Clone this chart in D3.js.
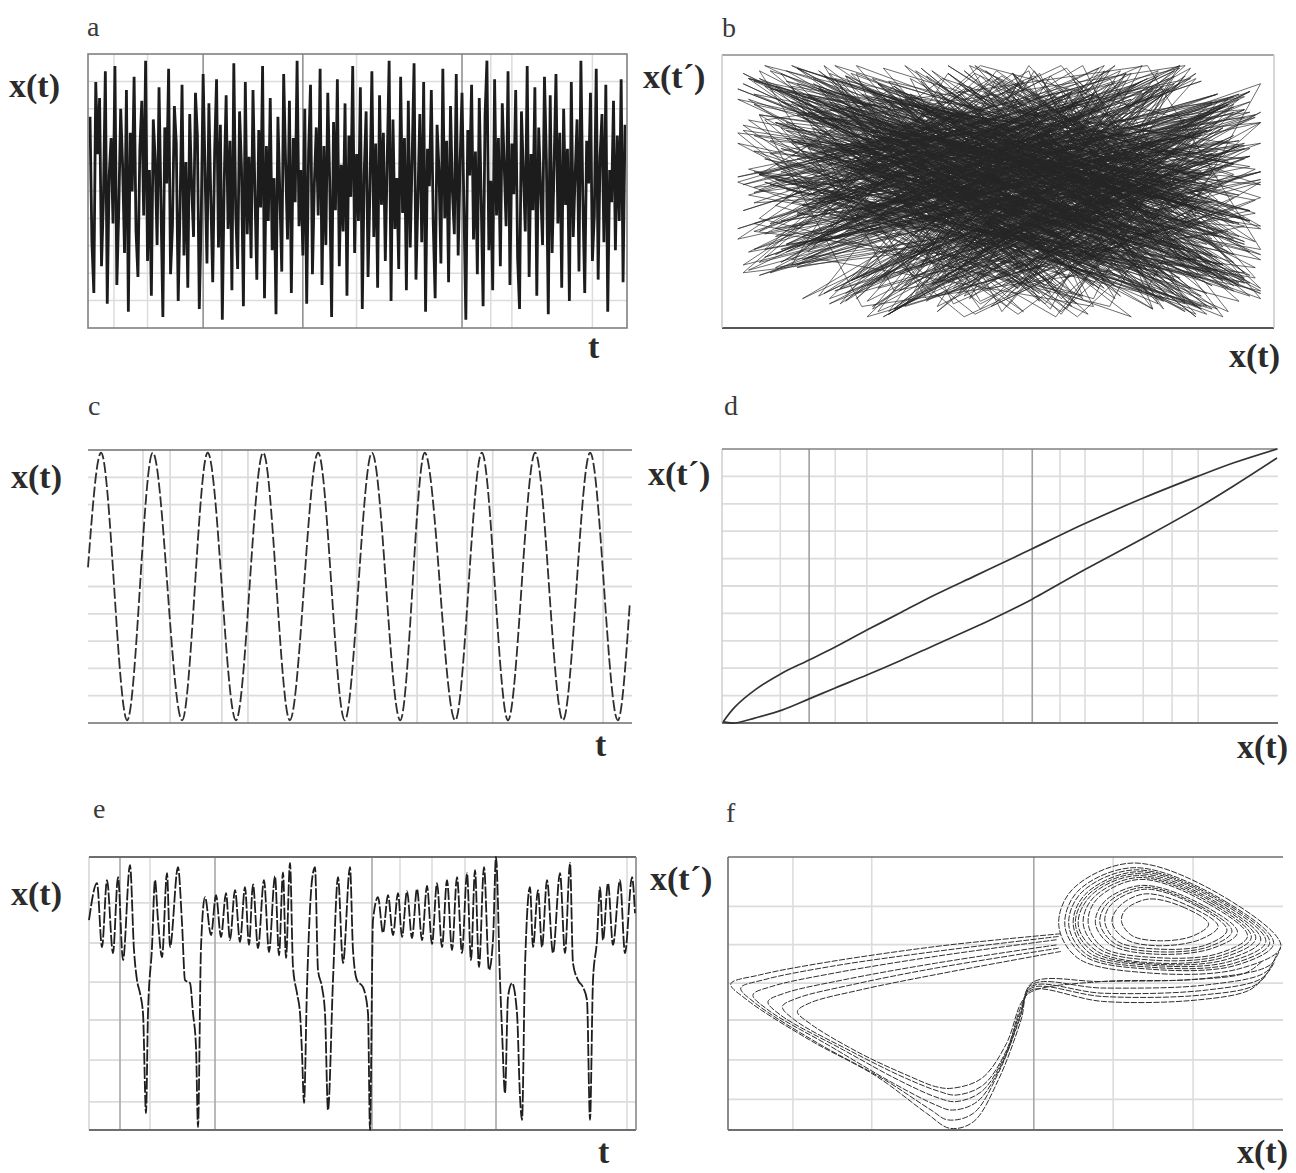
<!DOCTYPE html>
<html><head><meta charset="utf-8">
<script src="https://cdn.jsdelivr.net/npm/d3@7"></script>
<style>body{margin:0;background:#fff}svg{display:block}</style>
</head><body>
<svg id="chart" width="1296" height="1173"></svg>
<script>
// ---------- DATA (arbitrary units) ----------
// a: noise time series x(t), 0..100
const noiseA = [
78,31,12,91,64,85,22,47,95,8,56,70,38,97,15,43,81,60,27,88,
5,72,50,93,35,18,66,84,41,99,24,58,11,77,62,30,89,46,3,74,
53,96,19,37,82,68,9,45,90,26,61,14,79,52,33,87,71,6,40,94,
57,23,83,48,16,65,92,29,75,2,54,86,36,69,13,98,42,21,80,59,
7,91,34,63,25,88,50,17,73,44,97,10,67,39,85,28,55,4,78,49,
20,94,61,32,84,12,70,46,99,37,58,26,81,8,65,90,19,53,74,41,
96,15,67,30,87,54,3,76,43,92,22,60,35,83,11,71,48,97,27,64,
39,89,6,57,80,18,51,95,33,68,14,86,45,72,24,62,99,9,77,36,
55,21,93,42,70,13,84,29,63,98,17,47,79,31,91,5,66,52,88,38,
10,75,58,23,96,40,69,16,82,50,34,94,26,61,87,44,2,73,56,90,
32,65,19,85,47,7,78,99,28,54,13,92,41,70,22,83,60,37,95,15,
68,49,88,25,6,80,57,35,97,18,64,43,89,11,74,51,30,93,62,4,
86,27,59,94,38,72,14,81,45,66,9,91,33,56,77,20,99,48,12,69,
53,87,24,41,96,17,63,79,31,90,5,58,46,84,28,71,39,92,16,75];
// b: embedding delays of the phase portrait x(t) vs x(t')
const lagsB = [1, 2, 3, 4];
// c: periodic signal, extrema (t in periods, x 0..1)
const sineT = [0,0.24,0.72,1.19,1.73,2.2,2.72,3.22,3.71,4.23,4.72,5.22,5.74,6.19,6.75,7.24,7.72,8.22,8.73,9.23,9.74,9.96];
const sineX = [0.57,0.99,0.01,0.99,0.01,0.99,0.01,0.99,0.01,0.99,0.01,0.99,0.01,0.99,0.01,0.99,0.01,0.99,0.01,0.99,0.01,0.44];
// d: limit cycle (two branches), 0..1
const dUpperX = [0.002,0.023,0.059,0.108,0.157,0.204,0.261,0.324,0.384,0.456,0.528,0.559,0.654,0.759,0.858,0.921,1.0];
const dUpperY = [0.004,0.058,0.120,0.182,0.230,0.277,0.339,0.405,0.468,0.537,0.606,0.636,0.728,0.821,0.901,0.949,1.0];
const dLowerX = [0.002,0.023,0.059,0.108,0.157,0.204,0.261,0.324,0.384,0.456,0.528,0.559,0.654,0.759,0.858,0.921,1.0];
const dLowerY = [0.004,0.0,0.018,0.047,0.088,0.128,0.175,0.230,0.285,0.350,0.420,0.452,0.560,0.674,0.786,0.864,0.967];
// e: chaotic time series (t, x 0..100)
const eT = [0,8,13,18,24,29,34,41,45,48,51,54,57,59,63,66,69,73,78,81,89,93,96,101,104,107,109,112,
116,122,127,132,137,141,146,151,156,160,164,169,175,180,186,190,194,197,201,
204,208,211,213,215,218,223,226,229,233,236,239,244,249,254,261,264,268,274,279,281,284,
289,294,299,304,309,313,318,323,328,333,338,343,348,353,358,363,368,373,378,382,386,390,395,400,404,407,
411,413,416,419,423,428,431,433,436,441,444,449,453,458,464,471,476,481,484,489,494,498,501,504,508,511,514,519,524,531,536,543,546];
const eX = [76.9,90.4,67,91.5,64.8,92.6,62.2,97,65.9,54.9,50.1,42.8,6.2,42.8,67,91.5,76.9,63.3,94.1,67,96.3,75.8,54.9,53.8,42.8,30.4,1.1,67,
85.3,71.4,86,70.7,86.8,69.6,87.9,68.9,89,67.8,90,66.6,91.5,65.2,93,64,94.4,63,97.8,
59.7,50.1,42.8,28.2,9.9,52.3,91.5,96.3,58.6,52.3,42.8,7.3,54.9,92.6,61.1,96.3,65.9,54.9,52.3,42.8,0,76.9,
85.3,72.2,86,71.4,86.8,70.7,87.5,70.3,88.3,69.6,89.4,68.1,90.4,67,91.5,65.9,92.6,64.8,94.1,62.2,95.2,59.7,96.3,58.6,69.6,100,
54.9,36.6,13.5,48.7,53.8,42.8,12.1,3.7,59.7,89,67,87.9,67,91.5,64.8,94.1,64.8,97.8,61.1,54.9,52.3,47.6,3.7,54.9,69.6,89,69.6,90.4,67.8,91.5,64.8,92.6,79.4];
// f: strange attractor, x(t) vs x(t'), 0..100 -- left-wing passages
const fLeftLoops = [
 [[60,71.9],[48.7,69.7],[37.4,67.2],[18.5,61.7],[5.7,56.8],[0.5,53.5],[3.4,47.7],[14.7,33],[26.8,19.6],[35.8,6.1],[40,0.6],[44.2,3],[48.7,18.3],[52.8,40.3],[54.7,53.8],[67.5,54.4],[86.4,55.6],[97.7,60.5],[99.6,67.2]],
 [[59.6,70.9],[37.4,65.4],[18.5,59.9],[6.4,55],[2.3,52],[4.9,46.5],[16.2,31.8],[28.3,18.3],[36.6,7.3],[39.6,3.7],[44.2,6.1],[48.7,20.8],[52.5,40.3],[54.7,53.2],[67.5,52],[86.4,53.2],[97,58],[98.9,64.8]],
 [[59.2,69.7],[37.4,63.6],[19.2,57.5],[7.9,52.6],[4.5,49.5],[7.2,44],[18.5,30.6],[29.8,17.1],[37.4,9.2],[40.4,7.3],[44.9,10.4],[49.4,24.4],[52.8,42.8],[54.7,52.6],[67.5,50.1],[86.4,51.3],[96.2,55.6],[98.5,61.7]],
 [[59.2,67.8],[37.4,61.1],[20.8,55],[10.2,50.1],[7.2,47],[9.4,42.2],[20.8,29.3],[31.3,17.7],[38.1,11.6],[41.1,10.4],[45.7,14.1],[49.8,26.9],[52.8,44],[54.7,52],[67.5,48.9],[85.7,49.5],[95.1,53.2],[97.7,59.3]],
 [[59.6,66.6],[37.4,59.3],[22.3,53.2],[12.5,48.3],[9.8,45.2],[12,40.3],[22.3,28.7],[32.1,18.9],[38.1,14.1],[41.1,12.8],[46,16.5],[50.2,29.3],[52.8,45.2],[54.7,51.3],[67.5,47.1],[84.9,47.7],[94,51.3],[97,56.8]],
 [[60,65.4],[38.9,57.5],[23.8,51.3],[14.7,46.5],[12.5,43.4],[14.7,39.1],[23.8,28.1],[32.8,19.6],[37.4,15.9],[40.4,15.3],[45.7,18.9],[50.2,31.8],[52.8,46.5],[54.7,50.7],[67.5,54.4],[82.6,55],[93.2,57.5],[96.2,61.7]]
];
// f: right-wing spiral turns
const fRightLoops = [
 [[99.6,67.2],[90.5,84],[73,97.8],[62,88],[59.6,75],[63,63],[76,57.5],[92,59]],
 [[98.3,68.3],[89.8,83.5],[73.2,96.1],[63,87.4],[60.7,74.8],[64.2,63.7],[76.1,58.9],[91.3,60.2]],
 [[97.6,68.6],[89.2,83.6],[73.4,95.3],[63.6,86.8],[61.4,75.1],[64.6,64.3],[76.3,59.6],[90.7,60.8]],
 [[96.9,69],[88.6,83.6],[73.7,94.6],[64.3,86.2],[62.2,75.4],[65.1,64.9],[76.5,60.3],[90,61.5]],
 [[96,69.6],[88.2,83.2],[73.8,93.9],[64.8,86],[62.6,75.3],[65.8,65.2],[76.6,60.8],[89.7,62.4]],
 [[95.1,70.2],[87.9,82.9],[73.8,93.2],[65.3,85.7],[63.1,75.2],[66.4,65.6],[76.7,61.2],[89.4,63.3]],
 [[94.3,70.6],[87.2,82.9],[74,92.5],[65.8,85],[64,75.5],[67,66.2],[76.7,62.2],[88.8,63.9]],
 [[93.6,71],[86.5,82.9],[74.2,91.8],[66.4,84.4],[64.9,75.7],[67.5,66.9],[76.7,63.2],[88.1,64.5]],
 [[91.8,72.4],[85.7,82.2],[74.7,89.6],[67.9,83.8],[66.2,75.7],[69,67.8],[77.2,64.4],[87.2,66.5]],
 [[90.8,72.8],[85,82.1],[74.9,88.9],[68.4,83.1],[67,75.9],[69.6,68.4],[77.2,65.3],[86.6,67.1]],
 [[89.9,73.2],[84.4,82.1],[75.1,88.2],[69,82.5],[67.9,76.1],[70.2,69.1],[77.2,66.3],[86,67.7]],
 [[88.3,74.6],[83.6,81.5],[75.2,86.5],[70.5,81.9],[69.2,76],[71.7,69.8],[77.7,67.5],[85.1,69.8]],
 [[86.6,75.4],[82.3,81.4],[75.8,84.6],[71.6,80.6],[70.9,76.4],[72.8,71.2],[77.9,69.3],[83.8,71.1]]
];
// grid positions (in each panel's data units)
const aGridV = [12.5,30,59,111,139,194,209,220,262];
const aGridVDark = [59,111,194];
const cGridV = [1.01,1.51,2.46,2.94,4.94,6.05,6.97,7.44,9.47];
const dGridV = [0.105,0.157,0.204,0.261,0.506,0.559,0.609,0.654,0.759,0.811,0.858];
const dGridVDark = [0.157,0.559];
const eGridV = [31,61,126,283,311,343,376,407,538];
const eGridVDark = [31,126,283,407];
const eGridH = [83.2,68.5,54.2,40.3,25.6,10.3];
const fGridV = [11.7,25.9,55.1,69.4,83.8];
const fGridH = [81.9,67.9,53.8,40.3,25.7,11.2];
const tenthGrid = [0.1,0.2,0.3,0.4,0.5,0.6,0.7,0.8,0.9];

// ---------- DRAWING ----------
const svg = d3.select('#chart');
const SERIF = '"Liberation Serif","DejaVu Serif",serif';
const LIGHT = '#dcdcdc', FRAME = '#6e6e6e';

function hline(g, x0, x1, y, c, w){ g.append('line').attr('x1',x0).attr('x2',x1).attr('y1',y).attr('y2',y).attr('stroke',c).attr('stroke-width',w); }
function vline(g, x, y0, y1, c, w){ g.append('line').attr('x1',x).attr('x2',x).attr('y1',y0).attr('y2',y1).attr('stroke',c).attr('stroke-width',w); }
function txt(s, x, y, size, bold, fill){
  svg.append('text').attr('x',x).attr('y',y).attr('font-family',SERIF).attr('font-size',size)
    .attr('font-weight',bold?'bold':'normal').attr('fill',fill||'#2b2b2b').text(s);
}

// ---- panel a ----
{
  const g = svg.append('g');
  const B = {x0:88,x1:627,y0:54,y1:328};
  const x = d3.scaleLinear().domain([0,noiseA.length-1]).range([90,625]);
  const y = d3.scaleLinear().domain([0,100]).range([325,58]);
  const gy = d3.scaleLinear().domain([0,1]).range([B.y1,B.y0]);
  tenthGrid.forEach(v=>hline(g,B.x0,B.x1,gy(v),LIGHT,1.5));
  aGridV.forEach(v=>vline(g,x(v),B.y0,B.y1,aGridVDark.includes(v)?'#8a8a8a':LIGHT,1.5));
  g.append('path').datum(noiseA).attr('fill','none').attr('stroke','#1c1c1c').attr('stroke-width',2.8)
    .attr('d',d3.line().x((d,i)=>x(i)).y(d=>y(d)));
  g.append('rect').attr('x',B.x0).attr('y',B.y0).attr('width',B.x1-B.x0).attr('height',B.y1-B.y0)
    .attr('fill','none').attr('stroke','#808080').attr('stroke-width',1.6);
}
// ---- panel b ----
{
  const g = svg.append('g');
  const B = {x0:722,x1:1274,y0:55,y1:328};
  const x = d3.scaleLinear().domain([0,100]).range([727,1266]);
  const y = d3.scaleLinear().domain([0,100]).range([322,63]);
  lagsB.forEach(lag=>{
    const pts = noiseA.slice(0,noiseA.length-lag).map((v,i)=>[v,noiseA[i+lag]]);
    g.append('path').datum(pts).attr('fill','none').attr('stroke','#262626').attr('stroke-width',0.75)
      .attr('stroke-opacity',0.9).attr('d',d3.line().x(d=>x(d[0])).y(d=>y(d[1])));
  });
  hline(g,B.x0,B.x1,B.y0,'#a8a8a8',2.2);
  hline(g,B.x0,B.x1,B.y1,'#555',2.2);
  vline(g,B.x0,B.y0,B.y1,'#c8c8c8',1.5);
  vline(g,B.x1,B.y0,B.y1,'#c8c8c8',1.5);
}
// ---- panel c ----
{
  const g = svg.append('g');
  const B = {x0:88,x1:632,y0:450,y1:723};
  const x = d3.scaleLinear().domain([0,10]).range([B.x0,B.x1]);
  const y = d3.scaleLinear().domain([0,1]).range([B.y1,B.y0]);
  tenthGrid.forEach(v=>hline(g,B.x0,B.x1,y(v),LIGHT,1.8));
  cGridV.forEach(v=>vline(g,x(v),B.y0,B.y1,LIGHT,1.8));
  hline(g,B.x0,B.x1,B.y0,FRAME,1.6);
  hline(g,B.x0,B.x1,B.y1,FRAME,1.6);
  g.append('path').datum(sineT.map((t,i)=>[t,sineX[i]])).attr('fill','none').attr('stroke','#2e2e2e')
    .attr('stroke-width',1.8).attr('stroke-dasharray','11,3')
    .attr('d',d3.line().curve(d3.curveMonotoneX).x(d=>x(d[0])).y(d=>y(d[1])));
}
// ---- panel d ----
{
  const g = svg.append('g');
  const B = {x0:722,x1:1278,y0:449,y1:723};
  const x = d3.scaleLinear().domain([0,1]).range([B.x0,1277]);
  const y = d3.scaleLinear().domain([0,1]).range([B.y1,B.y0]);
  tenthGrid.forEach(v=>hline(g,B.x0,B.x1,y(v),LIGHT,1.8));
  dGridV.forEach(v=>vline(g,x(v),B.y0,B.y1,dGridVDark.includes(v)?'#a0a0a0':LIGHT,1.6));
  vline(g,B.x0,B.y0,B.y1,'#cfcfcf',1.5);
  hline(g,B.x0,B.x1,B.y0,'#808080',1.6);
  hline(g,B.x0,B.x1,B.y1,FRAME,1.8);
  const ln = d3.line().curve(d3.curveCatmullRom).x(d=>x(d[0])).y(d=>y(d[1]));
  g.append('path').datum(dUpperX.map((v,i)=>[v,dUpperY[i]])).attr('fill','none').attr('stroke','#333').attr('stroke-width',1.7).attr('d',ln);
  g.append('path').datum(dLowerX.map((v,i)=>[v,dLowerY[i]])).attr('fill','none').attr('stroke','#333').attr('stroke-width',1.7).attr('d',ln);
}
// ---- panel e ----
{
  const g = svg.append('g');
  const B = {x0:89,x1:636,y0:857,y1:1130};
  const x = d3.scaleLinear().domain([0,547]).range([B.x0,B.x1]);
  const y = d3.scaleLinear().domain([0,100]).range([B.y1,B.y0]);
  eGridH.forEach(v=>hline(g,B.x0,B.x1,y(v),LIGHT,1.8));
  eGridV.forEach(v=>vline(g,x(v),B.y0,B.y1,eGridVDark.includes(v)?'#a8a8a8':LIGHT,1.6));
  vline(g,B.x0,B.y0,B.y1,'#d4d4d4',1.5);
  hline(g,B.x0,B.x1,B.y0,FRAME,1.8);
  hline(g,B.x0,B.x1,B.y1,FRAME,1.8);
  vline(g,B.x1,B.y0,B.y1,'#888',1.6);
  g.append('path').datum(eT.map((t,i)=>[t,eX[i]])).attr('fill','none').attr('stroke','#1e1e1e')
    .attr('stroke-width',1.8).attr('stroke-dasharray','12,2')
    .attr('d',d3.line().curve(d3.curveMonotoneX).x(d=>x(d[0])).y(d=>y(d[1])));
}
// ---- panel f ----
{
  const g = svg.append('g');
  const B = {x0:728,x1:1283,y0:857,y1:1130};
  const x = d3.scaleLinear().domain([0,100]).range([B.x0,B.x1]);
  const y = d3.scaleLinear().domain([0,100]).range([B.y1,B.y0]);
  fGridH.forEach(v=>hline(g,B.x0,B.x1,y(v),LIGHT,1.8));
  fGridV.forEach(v=>vline(g,x(v),B.y0,B.y1,v===55.1?'#a8a8a8':LIGHT,1.6));
  hline(g,B.x0,B.x1,B.y0,FRAME,1.6);
  hline(g,B.x0,B.x1,B.y1,FRAME,1.8);
  vline(g,B.x0,B.y0,B.y1,FRAME,1.6);
  const open = d3.line().curve(d3.curveCatmullRom).x(d=>x(d[0])).y(d=>y(d[1]));
  const closed = d3.line().curve(d3.curveCatmullRomClosed).x(d=>x(d[0])).y(d=>y(d[1]));
  fLeftLoops.forEach(L=>g.append('path').datum(L).attr('fill','none').attr('stroke','#2e2e2e')
    .attr('stroke-width',1).attr('stroke-dasharray','6,1.5').attr('d',open));
  fRightLoops.forEach(L=>g.append('path').datum(L).attr('fill','none').attr('stroke','#2e2e2e')
    .attr('stroke-width',1).attr('stroke-dasharray','6,1.5').attr('d',closed));
}

// ---------- TEXT ----------
[['a',87,36],['b',722,37],['c',88,415],['d',724,415],['e',93,818],['f',726,822]]
  .forEach(d=>txt(d[0],d[1],d[2],28,false,'#3a3a3a'));
[['x(t)',9,97],['x(t)',11,488],['x(t)',11,905]].forEach(d=>txt(d[0],d[1],d[2],34,true));
[['x(t\u00B4)',643,88],['x(t\u00B4)',648,485],['x(t\u00B4)',650,890]].forEach(d=>txt(d[0],d[1],d[2],34,true));
[['x(t)',1229,367],['x(t)',1237,758],['x(t)',1237,1163]].forEach(d=>txt(d[0],d[1],d[2],34,true));
[['t',588,358],['t',595,756],['t',598,1163]].forEach(d=>txt(d[0],d[1],d[2],34,true));
</script>
</body></html>
